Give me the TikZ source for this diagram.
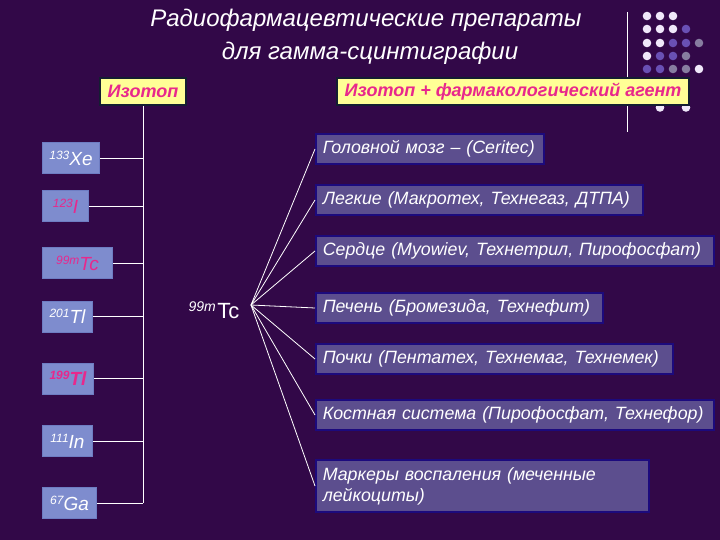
\documentclass[tikz,border=0pt]{standalone}
\usepackage{fontspec}
\setmainfont{Liberation Sans}
\definecolor{bgc}{RGB}{50,8,72}
\definecolor{lbox}{RGB}{126,140,206}
\definecolor{lboxe}{RGB}{110,125,195}
\definecolor{rbox}{RGB}{92,78,142}
\definecolor{rboxe}{RGB}{28,10,125}
\definecolor{pinkt}{RGB}{232,40,140}
\definecolor{yel}{RGB}{255,255,150}
\definecolor{hdre}{RGB}{20,30,50}
\definecolor{dotw}{RGB}{240,232,250}
\definecolor{dotp}{RGB}{105,80,180}
\definecolor{dotg}{RGB}{135,125,160}
\newcommand\isolab[2]{\raisebox{6pt}{\fontsize{12}{12}\selectfont #1}#2}
\begin{document}
\begin{tikzpicture}[x=1pt,y=-1pt,
  wire/.style={draw=white,line width=0.8pt},
  lboxst/.style={draw=lboxe,line width=1pt,fill=lbox,anchor=west,minimum height=31pt,inner sep=2pt,font=\fontsize{19}{22}\selectfont\itshape},
  rboxst/.style={draw=rboxe,line width=1.6pt,fill=rbox,anchor=west,minimum height=30pt,inner xsep=7pt,inner ysep=3pt,text=white,font=\fontsize{17.8}{21}\selectfont\itshape,align=left},
  hdr/.style={draw=hdre,line width=2pt,fill=yel,minimum height=27pt,inner sep=2pt,text=pinkt,font=\fontsize{18}{21}\selectfont\bfseries\itshape},
  titlest/.style={text=white,font=\fontsize{24}{28}\selectfont\itshape}]
\useasboundingbox (0,0) rectangle (720,540);
\fill[bgc] (0,0) rectangle (720,540);
% title
\node[titlest] (t1) at (366,20) {Радиофармацевтические препараты};
\node[titlest] (t2) at (370,53) {для гамма-сцинтиграфии};
% decorative line and dots
\coordinate (vtop) at (627,12);
\coordinate (vbot) at (627,132);
\draw[wire] (vtop) -- (vbot);
\foreach \c/\x/\y in {dotw/647/16,dotw/660/16,dotw/673/16,
  dotw/647/29,dotw/660/29,dotw/673/29,dotp/686/29,
  dotw/647/43,dotw/660/43,dotp/673/43,dotp/686/43,dotg/699/43,
  dotw/647/56,dotp/660/56,dotp/673/56,dotg/686/56,
  dotp/647/69,dotp/660/69,dotg/673/69,dotg/686/69,dotw/699/69,
  dotw/660/107.5,dotw/686/107.5}
  \fill[\c] (\x,\y) circle (4.3);
% headers
\node[hdr,minimum width=86pt] (iso) at (143,91.5) {Изотоп};
\node[hdr,minimum width=352pt] (agent) at (513,91.5) {Изотоп + фармакологический агент};
% left isotope boxes
\node[lboxst,minimum width=57pt,text=white] (xe) at (42,158) {\isolab{133}{Xe}};
\node[lboxst,minimum width=46pt,text=pinkt] (i) at (42,206.5) {\isolab{123}{I}};
\node[lboxst,minimum width=70pt,text=pinkt] (tcl) at (42,263) {\isolab{99m}{Tc}};
\node[lboxst,minimum width=50pt,text=white] (tla) at (42,316.5) {\isolab{201}{Tl}};
\node[lboxst,minimum width=51pt,text=pinkt,font=\fontsize{19}{22}\selectfont\bfseries\itshape] (tlb) at (42,378.5) {\isolab{199}{Tl}};
\node[lboxst,minimum width=50pt,text=white] (in) at (42,441) {\isolab{111}{In}};
\node[lboxst,minimum width=54pt,text=white] (ga) at (42,503) {\isolab{67}{Ga}};
\draw[wire] (iso.south) -- (iso.south |- ga.east);
\foreach \n in {xe,i,tcl,tla,tlb,in,ga}
  \draw[wire] (\n.east) -- (\n.east -| iso.south);
% center 99mTc
\node[text=white,inner sep=0pt] (tc) at (214,310) {\raisebox{7pt}{\fontsize{14}{14}\selectfont\itshape 99m}\,{\fontsize{22}{24}\selectfont Tc}};
\coordinate (hub) at (251,305);
% right boxes
\node[rboxst,text width=214pt] (b1) at (315,149) {Головной мозг – (Ceritec)};
\node[rboxst,text width=313pt] (b2) at (315,200) {Легкие (Макротех, Технегаз, ДТПА)};
\node[rboxst,text width=384pt] (b3) at (315,251) {Сердце (Myowiev, Технетрил, Пирофосфат)};
\node[rboxst,text width=273pt] (b4) at (315,308) {Печень (Бромезида, Технефит)};
\node[rboxst,text width=343pt] (b5) at (315,359) {Почки (Пентатех, Технемаг, Технемек)};
\node[rboxst,text width=384pt] (b6) at (315,415) {Костная система (Пирофосфат, Технефор)};
\node[rboxst,text width=319pt,minimum height=52pt] (b7) at (315,486) {Маркеры воспаления (меченные\\лейкоциты)};
\foreach \n in {b1,b2,b3,b4,b5,b6,b7}
  \draw[wire] (hub) -- (\n.west);
\end{tikzpicture}
\end{document}
